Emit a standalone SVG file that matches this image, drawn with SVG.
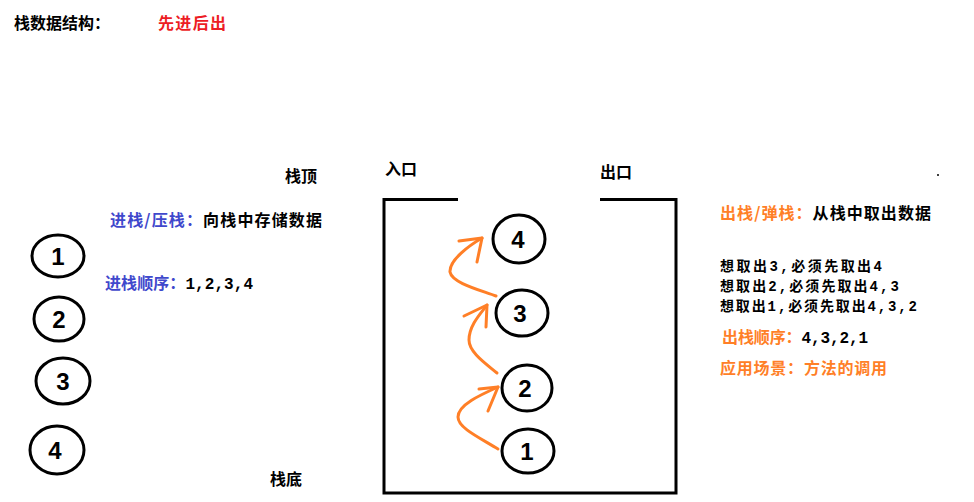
<svg xmlns="http://www.w3.org/2000/svg" width="974" height="502" viewBox="0 0 974 502">
<style>
text{font-family:"Noto Sans CJK SC","Liberation Sans",sans-serif;font-size:16px;font-weight:bold;fill:#000}
.sm{font-size:14px}
.mono{font-family:"Liberation Mono","Noto Sans CJK SC",monospace}
.blue{fill:#3f48cc}
.orange{fill:#ff7f27}
.red{fill:#ed1c24}
.num{font-family:"Liberation Sans",sans-serif;font-size:24px;font-weight:bold;text-anchor:middle}
.node ellipse{fill:#fff;stroke:#000;stroke-width:3}
.arr{fill:none;stroke:#ff7f27;stroke-width:3;stroke-linecap:round;stroke-linejoin:round}
.box{fill:none;stroke:#000;stroke-width:3}
</style>
<rect width="974" height="502" fill="#fff"/>
<text x="14" y="29" textLength="96" lengthAdjust="spacing">栈数据结构：</text>
<text x="158" y="29" class="red" textLength="68" lengthAdjust="spacing">先进后出</text>
<text x="285" y="182">栈顶</text>
<text x="385" y="175">入口</text>
<text x="600" y="178">出口</text>
<text x="270" y="485">栈底</text>
<text x="110" y="226" textLength="212" lengthAdjust="spacing"><tspan class="blue">进栈/压栈：</tspan><tspan>向栈中存储数据</tspan></text>
<text x="105" y="289" textLength="148" lengthAdjust="spacing"><tspan class="blue">进栈顺序：</tspan><tspan class="mono">1,2,3,4</tspan></text>
<text x="720" y="219" textLength="211" lengthAdjust="spacing"><tspan class="orange">出栈/弹栈：</tspan><tspan>从栈中取出数据</tspan></text>
<text x="720" y="271" class="sm" textLength="162" lengthAdjust="spacing">想取出<tspan class="mono">3,</tspan>必须先取出<tspan class="mono">4</tspan></text>
<text x="720" y="291" class="sm" textLength="179" lengthAdjust="spacing">想取出<tspan class="mono">2,</tspan>必须先取出<tspan class="mono">4,3</tspan></text>
<text x="720" y="311" class="sm" textLength="197" lengthAdjust="spacing">想取出<tspan class="mono">1,</tspan>必须先取出<tspan class="mono">4,3,2</tspan></text>
<text x="722" y="343" textLength="146" lengthAdjust="spacing"><tspan class="orange">出栈顺序：</tspan><tspan class="mono">4,3,2,1</tspan></text>
<text x="720" y="374" class="orange" textLength="167" lengthAdjust="spacing">应用场景：方法的调用</text>
<circle cx="938" cy="175" r="1" fill="#000"/>
<g id="stack">
<path class="box" d="M458 199.5 H384 V493 H676 V199.5 H600"/>
</g>
<g id="left1" class="node"><ellipse cx="58" cy="256" rx="26" ry="21"/><text class="num" x="58" y="265">1</text></g>
<g id="left2" class="node"><ellipse cx="59" cy="319" rx="25" ry="22"/><text class="num" x="59" y="328">2</text></g>
<g id="left3" class="node"><ellipse cx="63" cy="381" rx="27" ry="23"/><text class="num" x="63" y="390">3</text></g>
<g id="left4" class="node"><ellipse cx="57" cy="450" rx="27" ry="24"/><text class="num" x="55" y="459">4</text></g>
<g id="in4" class="node"><ellipse cx="519" cy="239" rx="26" ry="24"/><text class="num" x="518" y="248">4</text></g>
<g id="in3" class="node"><ellipse cx="522" cy="313" rx="26" ry="23"/><text class="num" x="520" y="322">3</text></g>
<g id="in2" class="node"><ellipse cx="527" cy="388" rx="25" ry="23"/><text class="num" x="525" y="397">2</text></g>
<g id="in1" class="node"><ellipse cx="528" cy="451" rx="26" ry="22"/><text class="num" x="527" y="460">1</text></g>
<g id="connectors">
<path class="arr" d="M498 449 C480 438 458 428 458 417 C458 405 480 395 498 387"/>
<path class="arr" d="M479 389 L498 387 L488 411"/>
<path class="arr" d="M497 373 C485 363 469 352 469 340 C469 325 482 312 487 305"/>
<path class="arr" d="M464 316 L487 305 L486 327"/>
<path class="arr" d="M496 296 C480 290 452 283 450 272 C449 260 470 245 482 238"/>
<path class="arr" d="M459 241 L482 238 L477 262"/>
</g>
</svg>
